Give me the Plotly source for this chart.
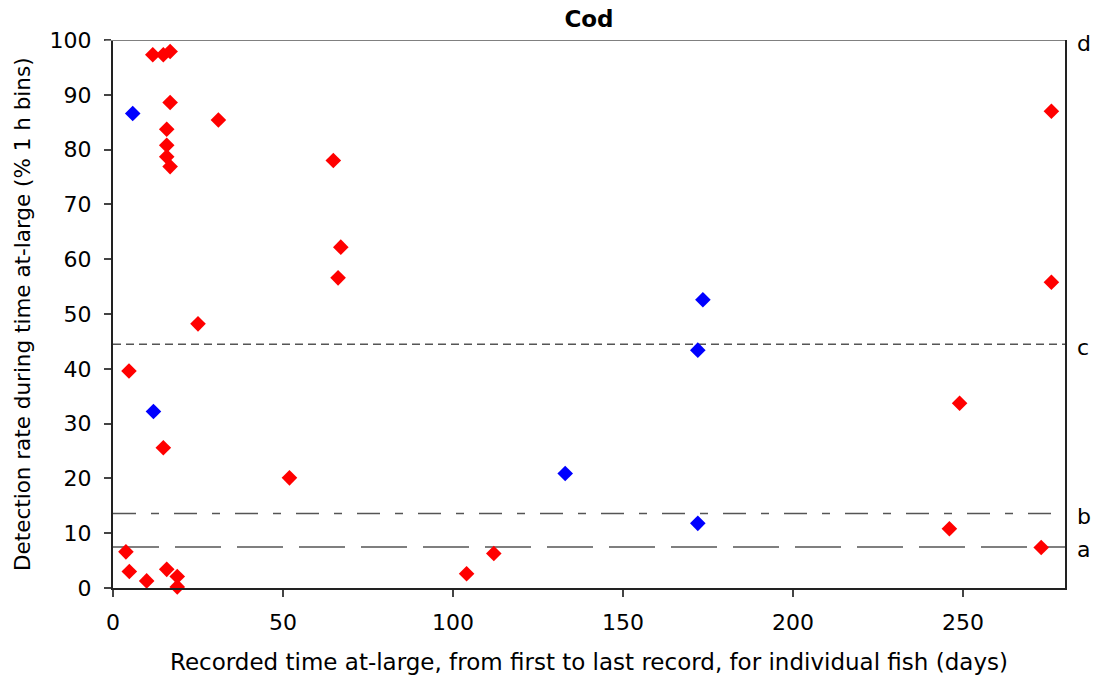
import plotly.graph_objects as go

# Red series (x: days at large, y: detection rate %)
red_x = [11.7, 14.8, 16.8, 16.8, 31.0, 15.8, 15.8, 15.8, 16.8, 64.8, 67.0, 66.2,
         25.0, 4.7, 14.8, 51.9, 3.8, 4.8, 9.9, 15.8, 18.9, 18.9, 104.0, 112.0,
         276.0, 276.0, 249.0, 246.0, 273.0]
red_y = [97.3, 97.3, 97.9, 88.6, 85.4, 83.7, 80.8, 78.7, 76.9, 78.0, 62.2, 56.6,
         48.2, 39.6, 25.6, 20.1, 6.6, 3.0, 1.3, 3.4, 2.1, 0.2, 2.6, 6.3,
         87.0, 55.8, 33.7, 10.8, 7.4]

# Blue series
blue_x = [5.8, 11.9, 133.0, 172.0, 173.5, 172.0]
blue_y = [86.6, 32.2, 20.9, 11.8, 52.6, 43.4]

# Reference lines
ref_labels = ["a", "b", "c"]
ref_values = [7.5, 13.6, 44.5]
ref_dashes = ["46px,16px", "23px,15px,8px,15px", "8px,5px"]
top_label = "d"
top_value = 100

x_ticks = [0, 50, 100, 150, 200, 250]
y_ticks = [0, 10, 20, 30, 40, 50, 60, 70, 80, 90, 100]

x_title = "Recorded time at-large, from first to last record, for individual fish (days)"
y_title = "Detection rate during time at-large (% 1 h bins)"

FONT = "DejaVu Sans, Liberation Sans, sans-serif"

fig = go.Figure()

for v, d in zip(ref_values, ref_dashes):
    fig.add_shape(type="line", xref="x", yref="y", x0=0, x1=280, y0=v, y1=v,
                  line=dict(color="#555555", width=1.5, dash=d), layer="below")

# top border (gray)
fig.add_shape(type="line", xref="paper", yref="y", x0=-0.008, x1=1, y0=100, y1=100,
              line=dict(color="#808080", width=2))

fig.add_trace(go.Scatter(x=red_x, y=red_y, mode="markers", cliponaxis=False,
                         marker=dict(symbol="diamond", size=12, color="#FF0000",
                                     line=dict(width=0)), showlegend=False))
fig.add_trace(go.Scatter(x=blue_x, y=blue_y, mode="markers", cliponaxis=False,
                         marker=dict(symbol="diamond", size=12, color="#0000FF",
                                     line=dict(width=0)), showlegend=False))

for lab, v in zip(ref_labels + [top_label], ref_values + [top_value]):
    fig.add_annotation(x=1.0, xref="paper", y=v, yref="y", text=lab, showarrow=False,
                       xanchor="left", xshift=10, yshift=-3,
                       font=dict(family=FONT, size=22, color="black"))

# axis titles as annotations for exact placement
fig.add_annotation(x=0.5, xref="paper", y=0, yref="paper", text=x_title, showarrow=False,
                   xanchor="center", yanchor="middle", yshift=-74,
                   font=dict(family=FONT, size=23, color="black"))
fig.add_annotation(x=0, xref="paper", y=0.5, yref="paper", text=y_title, showarrow=False,
                   xanchor="center", yanchor="middle", xshift=-91, textangle=-90,
                   font=dict(family=FONT, size=21.5, color="black"))

fig.update_layout(
    width=1094, height=678,
    margin=dict(l=113, r=29, t=40, b=90),
    paper_bgcolor="white", plot_bgcolor="white",
    font=dict(family=FONT, size=22, color="black"),
    title=dict(text="<b>Cod</b>", x=(113 + 1065) / 2 / 1094, xanchor="center",
               y=1 - 19 / 678, yanchor="middle", font=dict(size=23, family=FONT)),
    showlegend=False,
)

fig.update_xaxes(range=[0, 280], tickvals=x_ticks, showgrid=False, zeroline=False,
                 showline=True, linecolor="#222222", linewidth=2, mirror=False,
                 ticks="outside", ticklen=7, tickcolor="#444444", tickwidth=1.5,
                 ticklabelstandoff=7, tickfont=dict(size=22), automargin=False)
fig.update_yaxes(range=[0, 100], tickvals=y_ticks, showgrid=False, zeroline=False,
                 showline=True, linecolor="#222222", linewidth=2, mirror=True,
                 ticks="outside", ticklen=7, tickcolor="#444444", tickwidth=1.5,
                 ticklabelstandoff=8, tickfont=dict(size=22), automargin=False)

fig.write_html("out.html")
